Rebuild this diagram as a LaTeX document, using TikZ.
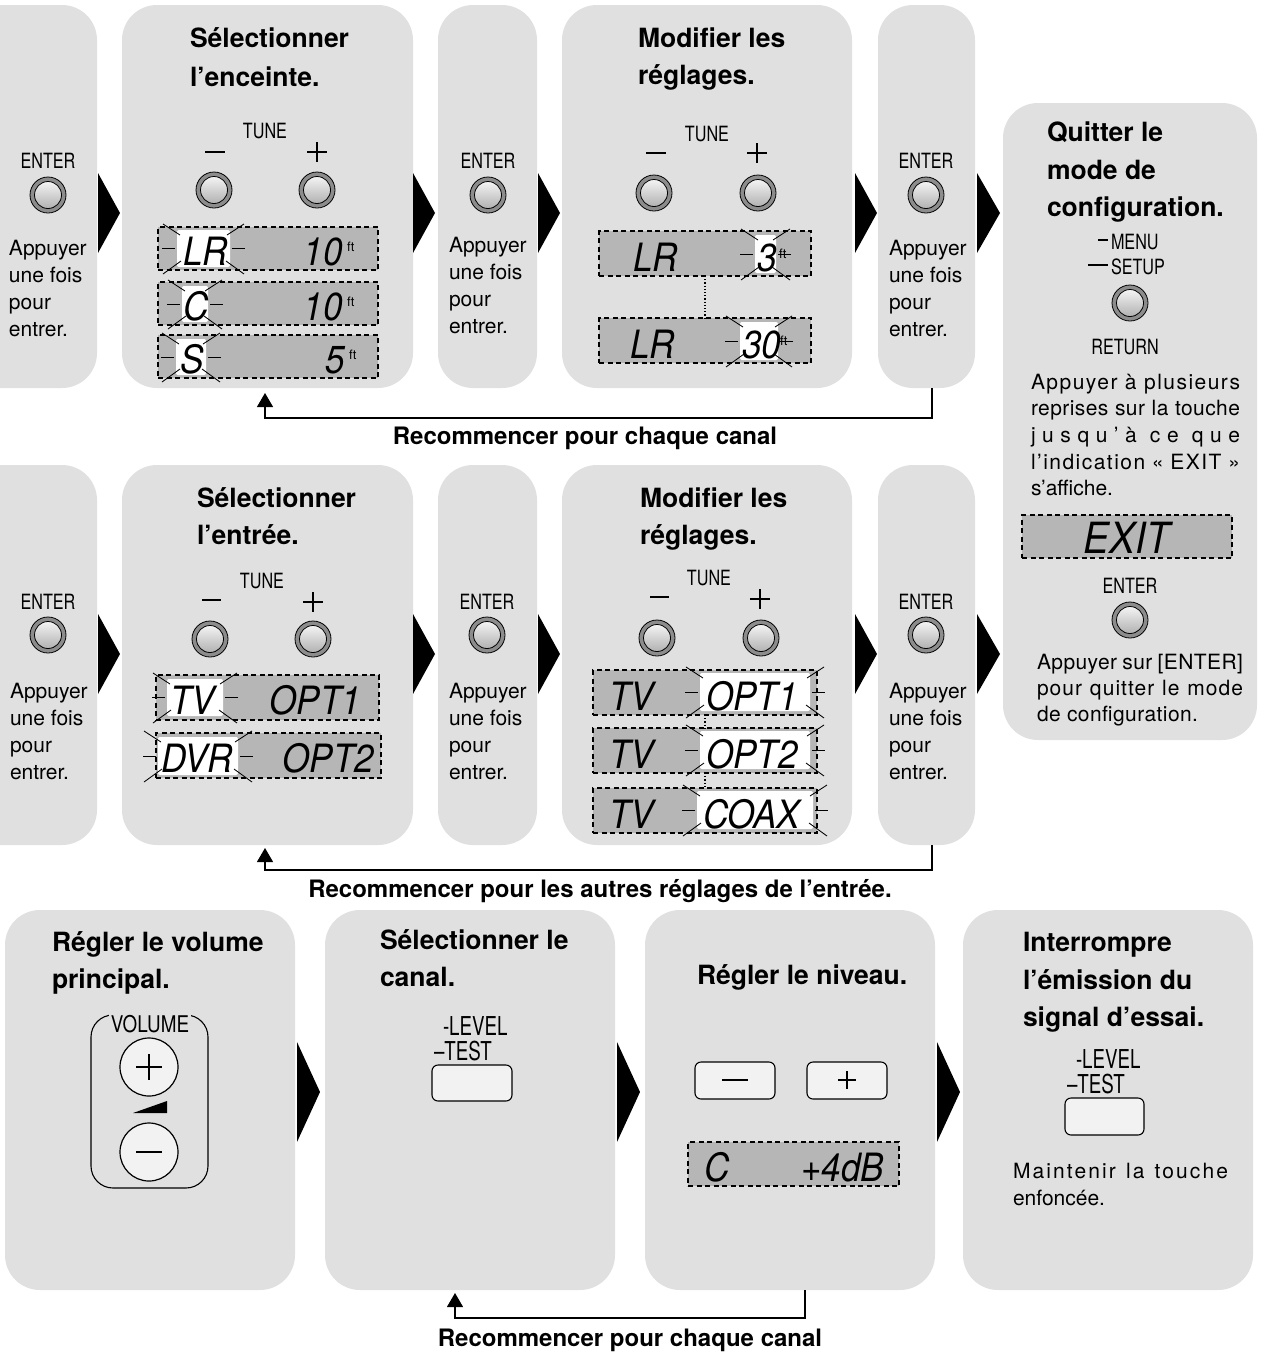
\documentclass[tikz,border=0pt]{standalone}
\usepackage{fontspec}
\setmainfont{TeX Gyre Heros}
\usetikzlibrary{arrows.meta}
\definecolor{panelg}{RGB}{224,224,224}
\definecolor{dispg}{RGB}{182,182,182}
\definecolor{keyg}{RGB}{242,242,242}
\newcommand{\cnd}[1]{\scalebox{0.77}[1]{#1}}
\newcommand{\cnl}[1]{\scalebox{0.72}[1]{#1}}
\newcommand{\dsc}[1]{\scalebox{0.9}[1]{#1}}
\newcommand{\jl}[2]{\makebox[#1][s]{#2}}
\newcommand{\hlite}[4]{%
 \fill[white,rounded corners=2pt] (#1,#2) rectangle (#3,#4);
 \draw[ray] ({#1-15},{(#2+#4)/2}) -- ({#1-2},{(#2+#4)/2});
 \draw[ray] ({#3+2},{(#2+#4)/2}) -- ({#3+15},{(#2+#4)/2});
 \draw[ray] ({#1-14},{#2-6}) -- ({#1+3},{#2+5});
 \draw[ray] ({#3-3},{#2+5}) -- ({#3+14},{#2-6});
 \draw[ray] ({#1-14},{#4+7}) -- ({#1+4},{#4-6});
 \draw[ray] ({#3-4},{#4-6}) -- ({#3+14},{#4+7});
}
\newcommand{\ftri}[4]{\fill[black] (#1,{#2-#4/2}) -- ({#1+#3},#2) -- (#1,{#2+#4/2}) -- cycle;}
\tikzset{
 every node/.style={inner sep=0pt, outer sep=0pt},
 panel/.style={rectangle, fill=panelg, rounded corners=35pt},
 ttl/.style={anchor=base west, font=\bfseries\fontsize{26.5}{30}\selectfont},
 body/.style={anchor=base west, font=\fontsize{21}{25}\selectfont},
 lbl/.style={anchor=base, font=\fontsize{21}{25}\selectfont},
 biglbl/.style={anchor=base west, font=\fontsize{26}{26}\selectfont},
 fbtxt/.style={anchor=base, font=\bfseries\fontsize{24}{26}\selectfont},
 disp/.style={rectangle, fill=dispg, draw=black, dash pattern=on 5pt off 3.5pt, line width=1.1pt},
 dtxt/.style={font=\itshape\fontsize{39}{39}\selectfont},
 ftl/.style={anchor=base west, font=\fontsize{13}{13}\selectfont},
 ray/.style={line width=0.85pt},
 sign/.style={line width=2.8pt},
 btn/.style={circle, draw=black, line width=0.8pt, fill=black!45, minimum size=36pt,
   path picture={\shade[top color=white, bottom color=black!35] (path picture bounding box.center) circle[radius=13.5pt];
   \draw[line width=0.8pt] (path picture bounding box.center) circle[radius=13.5pt];}},
 key/.style={rectangle, draw=black, fill=keyg, rounded corners=6pt, line width=1.1pt},
 fb/.style={line width=1.2pt, -{Triangle[width=16pt,length=14pt]}},
}
\begin{document}
\begin{tikzpicture}[x=1pt,y=-1pt]
\useasboundingbox (0,0) rectangle (1269,1353);
\clip (0,0) rectangle (1269,1353);
\fill[white] (0,0) rectangle (1269,1353);

% ---------------- panels ----------------
\node[panel, minimum width=137pt, minimum height=383pt] (r1p1) at (28.5,196.5) {};
\node[panel, minimum width=291pt, minimum height=383pt] (r1p2) at (267.5,196.5) {};
\node[panel, minimum width=99pt, minimum height=383pt] (r1p3) at (487.5,196.5) {};
\node[panel, minimum width=290pt, minimum height=383pt] (r1p4) at (707,196.5) {};
\node[panel, minimum width=97pt, minimum height=383pt] (r1p5) at (926.5,196.5) {};
\node[panel, minimum width=254pt, minimum height=637pt] (p6) at (1130,421.5) {};
\node[panel, minimum width=137pt, minimum height=380pt] (r2p1) at (28.5,655) {};
\node[panel, minimum width=291pt, minimum height=380pt] (r2p2) at (267.5,655) {};
\node[panel, minimum width=99pt, minimum height=380pt] (r2p3) at (487.5,655) {};
\node[panel, minimum width=290pt, minimum height=380pt] (r2p4) at (707,655) {};
\node[panel, minimum width=97pt, minimum height=380pt] (r2p5) at (926.5,655) {};
\node[panel, minimum width=290pt, minimum height=380pt] (r3p1) at (150,1100) {};
\node[panel, minimum width=290pt, minimum height=380pt] (r3p2) at (470,1100) {};
\node[panel, minimum width=290pt, minimum height=380pt] (r3p3) at (790,1100) {};
\node[panel, minimum width=290pt, minimum height=380pt] (r3p4) at (1108,1100) {};

% ---------------- flow triangles ----------------
\ftri{98}{213}{22}{80}
\ftri{413}{213}{22}{80}
\ftri{538}{213}{22}{80}
\ftri{855}{213}{22}{80}
\ftri{977}{213}{23}{80}
\ftri{98}{654}{22}{80}
\ftri{413}{654}{22}{80}
\ftri{538}{654}{22}{80}
\ftri{855}{654}{22}{80}
\ftri{977}{654}{23}{80}
\ftri{297}{1092}{23}{100}
\ftri{617}{1092}{23}{100}
\ftri{937}{1092}{23}{100}

% ---------------- row 1 ----------------
% P1
\node[lbl] at (48,168) {\cnd{ENTER}};
\node[btn] (b11) at (48,195) {};
\node[body] at (9,255) {Appuyer};
\node[body] at (9,282) {une fois};
\node[body] at (9,309) {pour};
\node[body] at (9,336) {entrer.};
% P2
\node[ttl] at (190,47) {Sélectionner};
\node[ttl] at (190,86) {l’enceinte.};
\node[lbl] at (265,138) {\cnd{TUNE}};
\draw[sign] (205,152) -- (225,152);
\draw[sign] (307,152) -- (327,152) (317,142) -- (317,162);
\node[btn] (b12a) at (214,190) {};
\node[btn] (b12b) at (317,190) {};
\node[disp, minimum width=220pt, minimum height=43pt] (d1a) at (268,248.5) {};
\hlite{177}{230}{230}{267}
\node[dtxt, anchor=base west] at (183,265) {\dsc{LR}};
\node[dtxt, anchor=base east] at (343,265) {\dsc{10}};
\node[ftl] at (347,251) {ft};
\node[disp, minimum width=220pt, minimum height=43pt] (d1b) at (268,303.5) {};
\hlite{182}{286}{208}{322}
\node[dtxt, anchor=base west] at (183,320) {\dsc{C}};
\node[dtxt, anchor=base east] at (343,320) {\dsc{10}};
\node[ftl] at (347,306) {ft};
\node[disp, minimum width=220pt, minimum height=43pt] (d1c) at (268,356.5) {};
\hlite{176}{339}{206}{375}
\node[dtxt, anchor=base west] at (180,373) {\dsc{S}};
\node[dtxt, anchor=base east] at (345,373) {\dsc{5}};
\node[ftl] at (349,359) {ft};
% P3
\node[lbl] at (488,168) {\cnd{ENTER}};
\node[btn] (b13) at (488,195) {};
\node[body] at (449,252) {Appuyer};
\node[body] at (449,279) {une fois};
\node[body] at (449,306) {pour};
\node[body] at (449,333) {entrer.};
% P4
\node[ttl] at (638,47) {Modifier les};
\node[ttl] at (638,84) {réglages.};
\node[lbl] at (707,141) {\cnd{TUNE}};
\draw[sign] (646,153) -- (666,153);
\draw[sign] (747,153) -- (767,153) (757,143) -- (757,163);
\node[btn] (b14a) at (654,193) {};
\node[btn] (b14b) at (758,193) {};
\node[disp, minimum width=212pt, minimum height=45pt] (d2a) at (705,253.5) {};
\node[disp, minimum width=212pt, minimum height=45pt] (d2b) at (705,340.5) {};
\draw[dotted, line width=1.2pt] (d2a.south) -- (d2b.north);
\node[dtxt, anchor=base west] at (633,271) {\dsc{LR}};
\hlite{755}{235}{776}{273}
\node[dtxt, anchor=base west] at (757,271) {\dsc{3}};
\node[ftl] at (779,258) {ft};
\node[dtxt, anchor=base west] at (630,358) {\dsc{LR}};
\hlite{740}{322}{778}{360}
\node[dtxt, anchor=base west] at (742,358) {\dsc{30}};
\node[ftl] at (780,345) {ft};
% P5
\node[lbl] at (926,168) {\cnd{ENTER}};
\node[btn] (b15) at (926,195) {};
\node[body] at (889,255) {Appuyer};
\node[body] at (889,282) {une fois};
\node[body] at (889,309) {pour};
\node[body] at (889,336) {entrer.};

% feedback row 1
\draw[fb] ([xshift=5.5pt]r1p5.south) -- ++(0,30) -| ([xshift=-2.5pt,yshift=-5pt]r1p2.south);
\node[fbtxt] at (585,444) {Recommencer pour chaque canal};

% ---------------- P6 ----------------
\node[ttl] at (1047,141) {Quitter le};
\node[ttl] at (1047,179) {mode de};
\node[ttl] at (1047,216) {configuration.};
\draw[line width=2.5pt] (1098,240) -- (1108,240);
\node[body] at (1111,249) {\cnd{MENU}};
\draw[line width=2.5pt] (1088,265) -- (1108,265);
\node[body] at (1111,274) {\cnd{SETUP}};
\node[btn] (b6a) at (1130,303) {};
\node[lbl] at (1125,354) {\cnd{RETURN}};
\node[body] at (1031,389) {\addfontfeature{LetterSpace=7}\jl{209pt}{Appuyer à plusieurs}};
\node[body] at (1031,415) {\addfontfeature{LetterSpace=2}\jl{209pt}{reprises sur la touche}};
\node[body] at (1031,442) {\makebox[209pt][s]{j\hfil u\hfil s\hfil q\hfil u\hfil ’\hfil à\hskip 0pt plus 2fil c\hfil e\hskip 0pt plus 2fil q\hfil u\hfil e}};
\node[body] at (1031,469) {\addfontfeature{LetterSpace=7}\jl{209pt}{l’indication « EXIT »}};
\node[body] at (1031,495) {s’affiche.};
\node[disp, minimum width=210pt, minimum height=43pt] (dexit) at (1127,536.5) {};
\node[anchor=base, font=\itshape\fontsize{43}{43}\selectfont] at (1127,553) {\dsc{EXIT}};
\node[lbl] at (1130,593) {\cnd{ENTER}};
\node[btn] (b6b) at (1130,620) {};
\node[body] at (1037,669) {\addfontfeature{LetterSpace=2}\jl{206pt}{Appuyer sur [ENTER]}};
\node[body] at (1037,695) {\addfontfeature{LetterSpace=5}\jl{206pt}{pour quitter le mode}};
\node[body] at (1037,721) {\addfontfeature{LetterSpace=2}de configuration.};

% ---------------- row 2 ----------------
% P1
\node[lbl] at (48,609) {\cnd{ENTER}};
\node[btn] (b21) at (48,635) {};
\node[body] at (10,698) {Appuyer};
\node[body] at (10,725) {une fois};
\node[body] at (10,752) {pour};
\node[body] at (10,779) {entrer.};
% P2
\node[ttl] at (197,507) {Sélectionner};
\node[ttl] at (197,544) {l’entrée.};
\node[lbl] at (262,588) {\cnd{TUNE}};
\draw[sign] (202,600) -- (221,600);
\draw[sign] (303,602) -- (323,602) (313,592) -- (313,612);
\node[btn] (b22a) at (210,639) {};
\node[btn] (b22b) at (313,639) {};
\node[disp, minimum width=223pt, minimum height=45pt] (d3a) at (267.5,697.5) {};
\hlite{167}{679}{223}{716}
\node[dtxt, anchor=base west] at (170,714) {\dsc{TV}};
\node[dtxt, anchor=base east] at (361,714) {\dsc{OPT1}};
\node[disp, minimum width=225pt, minimum height=45pt] (d3b) at (268.5,755.5) {};
\hlite{158}{737}{238}{775}
\node[dtxt, anchor=base west] at (161,772) {\dsc{DVR}};
\node[dtxt, anchor=base east] at (374,772) {\dsc{OPT2}};
% P3
\node[lbl] at (487,609) {\cnd{ENTER}};
\node[btn] (b23) at (487,635) {};
\node[body] at (449,698) {Appuyer};
\node[body] at (449,725) {une fois};
\node[body] at (449,752) {pour};
\node[body] at (449,779) {entrer.};
% P4
\node[ttl] at (640,507) {Modifier les};
\node[ttl] at (640,544) {réglages.};
\node[lbl] at (709,585) {\cnd{TUNE}};
\draw[sign] (650,597) -- (669,597);
\draw[sign] (750,599) -- (770,599) (760,589) -- (760,609);
\node[btn] (b24a) at (657,638) {};
\node[btn] (b24b) at (761,638) {};
\node[disp, minimum width=224pt, minimum height=45pt] (d4a) at (705,692.5) {};
\node[disp, minimum width=224pt, minimum height=45pt] (d4b) at (705,750.5) {};
\node[disp, minimum width=224pt, minimum height=45pt] (d4c) at (705,810.5) {};
\draw[dotted, line width=1.2pt] (d4a.south) -- (d4b.north);
\draw[dotted, line width=1.2pt] (d4b.south) -- (d4c.north);
\node[dtxt, anchor=base west] at (609,710) {\dsc{TV}};
\hlite{700}{673}{810}{711}
\node[dtxt, anchor=base west] at (706,710) {\dsc{OPT1}};
\node[dtxt, anchor=base west] at (609,768) {\dsc{TV}};
\hlite{700}{731}{810}{769}
\node[dtxt, anchor=base west] at (706,768) {\dsc{OPT2}};
\node[dtxt, anchor=base west] at (609,828) {\dsc{TV}};
\hlite{697}{791}{813}{829}
\node[dtxt, anchor=base west] at (703,828) {\dsc{COAX}};
% P5
\node[lbl] at (926,609) {\cnd{ENTER}};
\node[btn] (b25) at (926,635) {};
\node[body] at (889,698) {Appuyer};
\node[body] at (889,725) {une fois};
\node[body] at (889,752) {pour};
\node[body] at (889,779) {entrer.};

% feedback row 2
\draw[fb] ([xshift=5.5pt]r2p5.south) -- ++(0,25) -| ([xshift=-2.5pt,yshift=-3pt]r2p2.south);
\node[fbtxt] at (600,897) {Recommencer pour les autres réglages de l’entrée.};

% ---------------- row 3 ----------------
% P1
\node[ttl] at (52,951) {Régler le volume};
\node[ttl] at (52,988) {principal.};
\node[draw=black, line width=1.1pt, rounded corners=22pt, minimum width=117pt, minimum height=173pt] (volbox) at (149.5,1101.5) {};
\node[anchor=base, fill=panelg, inner xsep=2pt, inner ysep=1pt, font=\fontsize{23}{25}\selectfont] at (150,1032) {\scalebox{0.82}[1]{VOLUME}};
\node[circle, draw=black, fill=keyg, line width=1.2pt, minimum size=58pt] (volup) at (149,1067) {};
\node[circle, draw=black, fill=keyg, line width=1.2pt, minimum size=58pt] (voldn) at (149,1152) {};
\draw[line width=2.4pt] (136,1067) -- (162,1067) (149,1054) -- (149,1080);
\draw[line width=2.4pt] (136,1152) -- (162,1152);
\fill[black] (133,1113) -- (167,1113) -- (167,1101) -- cycle;
% P2
\node[ttl] at (380,949) {Sélectionner le};
\node[ttl] at (380,986) {canal.};
\node[biglbl] at (443,1035) {\cnl{-LEVEL}};
\node[biglbl] at (434,1060) {\cnl{–TEST}};
\node[key, minimum width=80pt, minimum height=36pt] (k2) at (472,1083) {};
% P3
\node[ttl] at (697,984) {Régler le niveau.};
\node[key, minimum width=80pt, minimum height=37pt] (kminus) at (735,1080.5) {};
\node[key, minimum width=80pt, minimum height=37pt] (kplus) at (847,1080.5) {};
\draw[line width=1.2pt] (722,1080) -- (748,1080);
\draw[line width=1.1pt] (838,1080) -- (856,1080) (847,1071) -- (847,1089);
\node[disp, minimum width=211pt, minimum height=44pt] (d5) at (793.5,1164) {};
\node[dtxt, anchor=base west] at (704,1181) {\dsc{C}};
\node[dtxt, anchor=base east] at (884,1181) {\dsc{+4dB}};
% P4
\node[ttl] at (1023,951) {Interrompre};
\node[ttl] at (1023,989) {l’émission du};
\node[ttl] at (1023,1026) {signal d’essai.};
\node[biglbl] at (1076,1068) {\cnl{-LEVEL}};
\node[biglbl] at (1067,1093) {\cnl{–TEST}};
\node[key, minimum width=79pt, minimum height=37pt] (k4) at (1104.5,1116.5) {};
\node[body] at (1013,1178) {\addfontfeature{LetterSpace=10}\jl{215pt}{Maintenir la touche}};
\node[body] at (1013,1205) {enfoncée.};

% feedback row 3
\draw[fb] ([xshift=15pt]r3p3.south) -- ++(0,28) -| ([xshift=-15pt,yshift=-3pt]r3p2.south);
\node[fbtxt] at (630,1346) {Recommencer pour chaque canal};
\end{tikzpicture}
\end{document}
